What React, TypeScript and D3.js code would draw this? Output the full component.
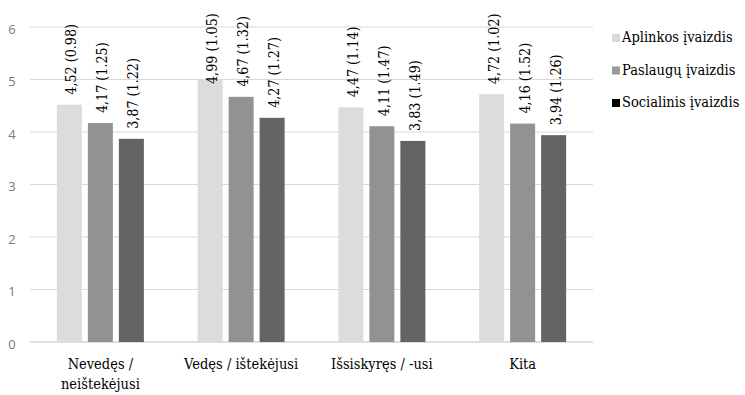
import React from "react";
import * as d3 from "d3";

const categories = [["Nevedęs /", "neištekėjusi"], ["Vedęs / ištekėjusi"], ["Išsiskyręs / -usi"], ["Kita"]];
const seriesNames = ["Aplinkos įvaizdis", "Paslaugų įvaizdis", "Socialinis įvaizdis"];
const means = [
  [4.52, 4.17, 3.87],
  [4.99, 4.67, 4.27],
  [4.47, 4.11, 3.83],
  [4.72, 4.16, 3.94],
];
const sds = [
  [0.98, 1.25, 1.22],
  [1.05, 1.32, 1.27],
  [1.14, 1.47, 1.49],
  [1.02, 1.52, 1.26],
];
const yTicks = [0, 1, 2, 3, 4, 5, 6];

const barColors = ["#dcdcde", "#929295", "#636365"];
const legendColors = ["#d9d9db", "#9a9a9c", "#000000"];
const SERIF = "DejaVu Serif";

export default function App() {
  const W = 745, H = 395;
  const left = 30, right = 593, top = 27, bottom = 342;
  const x0 = d3.scaleBand<number>().domain(d3.range(categories.length)).range([left, right]).paddingInner(0).paddingOuter(0);
  const y = d3.scaleLinear().domain([0, 6]).range([bottom, top]);
  const barW = 25, gap = 6;
  const groupW = barW * 3 + gap * 2;
  const fmt = (v: number) => v.toFixed(2).replace(".", ",");
  return (
    <svg width={W} height={H} style={{ position: "absolute", left: 0, top: 0, background: "#fff" }}>
      {yTicks.map((t) => (
        <g key={t}>
          <line x1={left} x2={right} y1={y(t)} y2={y(t)} stroke={t === 0 ? "#d4d4d4" : "#d9d9d9"} strokeWidth={t === 0 ? 1.5 : 1} />
          <text x={12} y={y(t) + 2} dy="0.35em" textAnchor="middle" fontFamily="'Open Sans', sans-serif" fontSize={13} fill="#7a7a7a">{t}</text>
        </g>
      ))}
      {means.map((row, i) => {
        const gx = (x0(i) as number) + (x0.bandwidth() - groupW) / 2;
        return (
          <g key={i}>
            {row.map((v, j) => {
              const bx = gx + j * (barW + gap);
              const cx = bx + barW / 2;
              const by = y(v);
              const ly = Math.max(by - 10, 84);
              return (
                <g key={j}>
                  <rect x={bx} y={by} width={barW} height={bottom - by} fill={barColors[j]} />
                  <text transform={`translate(${cx + 7},${ly}) rotate(-90) scale(0.85,1)`} textAnchor="start" fontFamily={SERIF} fontSize={15} fill="#000">
                    {`${fmt(v)} (${sds[i][j].toFixed(2)})`}
                  </text>
                </g>
              );
            })}
            {categories[i].map((line, k) => (
              <text key={k} transform={`translate(${(x0(i) as number) + x0.bandwidth() / 2},${369 + k * 20}) scale(0.87,1)`} textAnchor="middle" fontFamily={SERIF} fontSize={15} fill="#000">{line}</text>
            ))}
          </g>
        );
      })}
      {seriesNames.map((s, j) => (
        <g key={s}>
          <rect x={612} y={34 + j * 32.5} width={8} height={8} fill={legendColors[j]} />
          <text transform={`translate(622,${42 + j * 32.5}) scale(0.87,1)`} fontFamily={SERIF} fontSize={15} fill="#000">{s}</text>
        </g>
      ))}
    </svg>
  );
}
